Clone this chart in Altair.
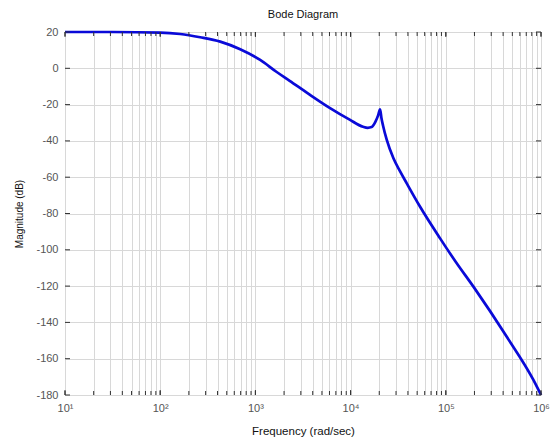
import altair as alt
import pandas as pd

# Frequency (rad/sec) and magnitude (dB)
freq = [10, 31.6, 100, 162, 263, 427, 692, 1122, 1660, 2291, 3715, 6026, 9772,
        13490, 15140, 16600, 18200, 19500, 20400, 21100, 21900, 23990, 28180,
        33110, 38900, 53700, 87100, 125900, 195000, 437000, 832000, 1000000]
mag = [20, 20, 19.7, 18.9, 17.1, 14.7, 10.5, 4.6, -1.9, -6.9, -14.5, -21.8, -28.3,
       -32.2, -32.8, -32.4, -29.5, -25.8, -22.6, -27.5, -31.5, -39.5, -49.6,
       -56.8, -63.4, -76.3, -93.7, -106.3, -120.3, -147.9, -171.7, -180]

decades = [10, 100, 1000, 10000, 100000, 1000000]
minor_ticks = [m * d for d in [10, 100, 1000, 10000, 100000] for m in range(1, 10)] + [1000000]
y_ticks = [20, 0, -20, -40, -60, -80, -100, -120, -140, -160, -180]

W, H = 476, 363
FONT = "Liberation Sans"

df = pd.DataFrame({"freq": freq, "mag": mag})
xt = pd.DataFrame({"freq": minor_ticks})
xd = pd.DataFrame({"freq": decades})
yt = pd.DataFrame({"mag": y_ticks})

xscale = alt.Scale(type="log", domain=[10, 1000000], nice=False)
yscale = alt.Scale(domain=[-180, 20], nice=False, zero=False)

label_expr = ("abs(log(datum.value)/LN10 - round(log(datum.value)/LN10)) < 0.01 ? "
              "'10' + ['⁰','¹','²','³','⁴','⁵','⁶'][round(log(datum.value)/LN10)] : ''")

xaxis = alt.Axis(values=minor_ticks, grid=True, gridColor="#d8d8d8", gridWidth=1,
                 ticks=False, domain=False, labelExpr=label_expr, labelOverlap=False,
                 labelFlush=False, labelPadding=7, labelFontSize=11, labelColor="#555555",
                 labelFont=FONT, title="Frequency  (rad/sec)", titleFont=FONT,
                 titleFontSize=11.5, titleFontWeight="normal", titleColor="#111111",
                 titleY=30, titleBaseline="top")
yaxis = alt.Axis(values=y_ticks, grid=True, gridColor="#d8d8d8", gridWidth=1,
                 ticks=False, domain=False, labelPadding=7, labelFontSize=11,
                 labelColor="#555555", labelFont=FONT, labelFlush=False,
                 labelExpr="'' + datum.value",
                 title="Magnitude (dB)", titleFont=FONT, titleFontSize=10,
                 titleFontWeight="normal", titleColor="#111111",
                 titleX=-41, titleY=H / 2, titleAngle=-90, titleAlign="center",
                 titleBaseline="bottom")

X = alt.X("freq:Q", scale=xscale, axis=xaxis)
Y = alt.Y("mag:Q", scale=yscale, axis=yaxis)

line = alt.Chart(df).mark_line(color="#0a0ad8", strokeWidth=2.7, interpolate="monotone").encode(
    x=X, y=Y)

tick_color = "#333333"
xb = alt.Chart(xt).mark_rule(color=tick_color, strokeWidth=1).encode(
    x=X, y=alt.value(H), y2=alt.value(H - 4))
xtop = alt.Chart(xt).mark_rule(color=tick_color, strokeWidth=1).encode(
    x=X, y=alt.value(0), y2=alt.value(4))
xdb = alt.Chart(xd).mark_rule(color=tick_color, strokeWidth=1).encode(
    x=X, y=alt.value(H), y2=alt.value(H - 5))
xdt = alt.Chart(xd).mark_rule(color=tick_color, strokeWidth=1).encode(
    x=X, y=alt.value(0), y2=alt.value(5))
yl = alt.Chart(yt).mark_rule(color=tick_color, strokeWidth=1).encode(
    y=Y, x=alt.value(0), x2=alt.value(5))
yr = alt.Chart(yt).mark_rule(color=tick_color, strokeWidth=1).encode(
    y=Y, x=alt.value(W - 5), x2=alt.value(W))

chart = alt.layer(line, xb, xtop, xdb, xdt, yl, yr).properties(
    width=W, height=H,
    title=alt.TitleParams("Bode Diagram", font=FONT, fontSize=11, fontWeight="normal",
                          color="#111111", offset=6, anchor="middle"),
    autosize=alt.AutoSizeParams(type="none"),
    padding={"left": 65, "top": 32, "right": 12, "bottom": 44},
).configure_view(stroke="#3a3a3a", strokeWidth=1.2).configure(background="white")

chart.save("out.html", embed_options={"renderer": "svg", "actions": False})
